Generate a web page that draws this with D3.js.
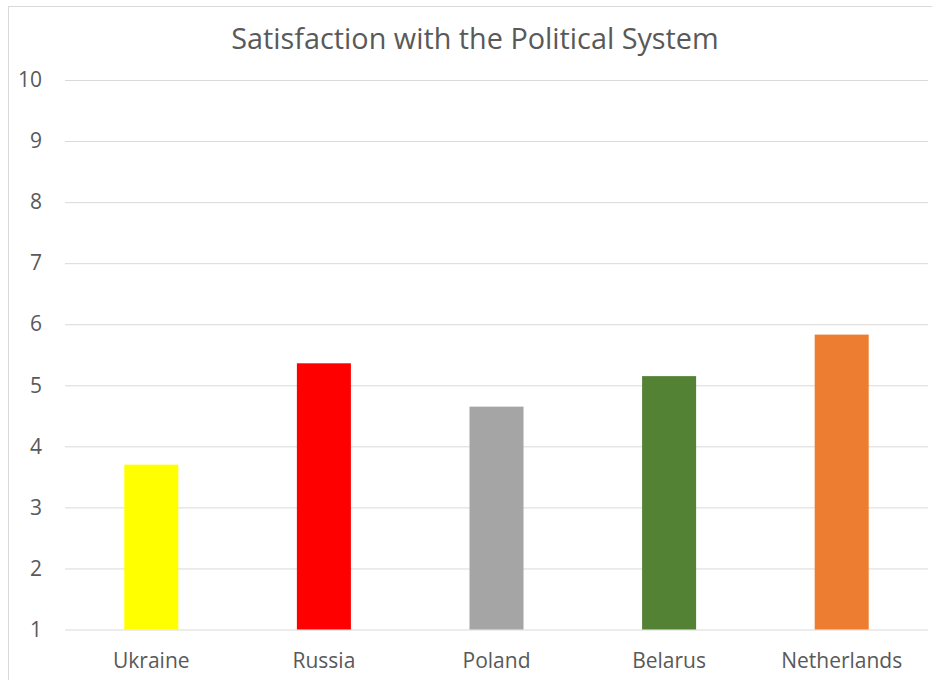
<!DOCTYPE html>
<html>
<head>
<meta charset="utf-8">
<script src="https://cdn.jsdelivr.net/npm/d3@7"></script>
<style>
  html, body { margin: 0; padding: 0; background: #ffffff; }
  svg { display: block; }
  text { font-family: "Open Sans", "Noto Sans", sans-serif; fill: #595959; }
</style>
</head>
<body>
<svg id="chart" width="932" height="680"></svg>
<script>
// Survey averages per country
const countries = ["Ukraine", "Russia", "Poland", "Belarus", "Netherlands"];
const satisfaction = [3.70, 5.36, 4.65, 5.15, 5.83];
const barColors = ["#ffff00", "#ff0000", "#a5a5a5", "#548235", "#ed7d31"];
const yTicks = [1, 2, 3, 4, 5, 6, 7, 8, 9, 10];
const chartTitle = "Satisfaction with the Political System";

const W = 932, H = 680;
const plot = { left: 65, right: 928, top: 80, bottom: 629.5 };

const svg = d3.select("#chart");

// outer chart frame
svg.append("rect")
  .attr("x", 8.5).attr("y", 6.5)
  .attr("width", W + 10).attr("height", H + 10)
  .attr("fill", "#ffffff")
  .attr("stroke", "#d9d9d9").attr("stroke-width", 1);

const x = d3.scaleBand()
  .domain(countries)
  .range([plot.left, plot.right])
  .paddingInner(0.687)
  .paddingOuter(0.3435);

const y = d3.scaleLinear()
  .domain([1, 10])
  .range([plot.bottom, plot.top]);

// horizontal gridlines with value labels
const yAxis = d3.axisLeft(y)
  .tickValues(yTicks)
  .tickSize(-(plot.right - plot.left))
  .tickPadding(23)
  .tickFormat(d3.format("d"));

const gy = svg.append("g")
  .attr("transform", `translate(${plot.left},0)`)
  .call(yAxis);
gy.select(".domain").remove();
gy.selectAll(".tick line").attr("stroke", "#d9d9d9").attr("stroke-width", 1);
gy.selectAll(".tick text")
  .attr("font-size", 21)
  .attr("fill", "#595959")
  .style("font-family", "'Open Sans', sans-serif");

// bars
svg.append("g")
  .selectAll("rect")
  .data(countries)
  .join("rect")
  .attr("x", d => x(d))
  .attr("width", x.bandwidth())
  .attr("y", (d, i) => y(satisfaction[i]))
  .attr("height", (d, i) => y(1) - y(satisfaction[i]))
  .attr("fill", (d, i) => barColors[i]);

// category labels
const xAxis = d3.axisBottom(x).tickSize(0).tickPadding(23.5);
const gx = svg.append("g")
  .attr("transform", `translate(0,${plot.bottom})`)
  .call(xAxis);
gx.select(".domain").remove();
gx.selectAll(".tick text")
  .attr("font-size", 21)
  .attr("fill", "#595959")
  .style("font-family", "'Open Sans', sans-serif");

// title
svg.append("text")
  .attr("x", 475)
  .attr("y", 49)
  .attr("text-anchor", "middle")
  .attr("font-size", 28.8)
  .text(chartTitle);
</script>
</body>
</html>
